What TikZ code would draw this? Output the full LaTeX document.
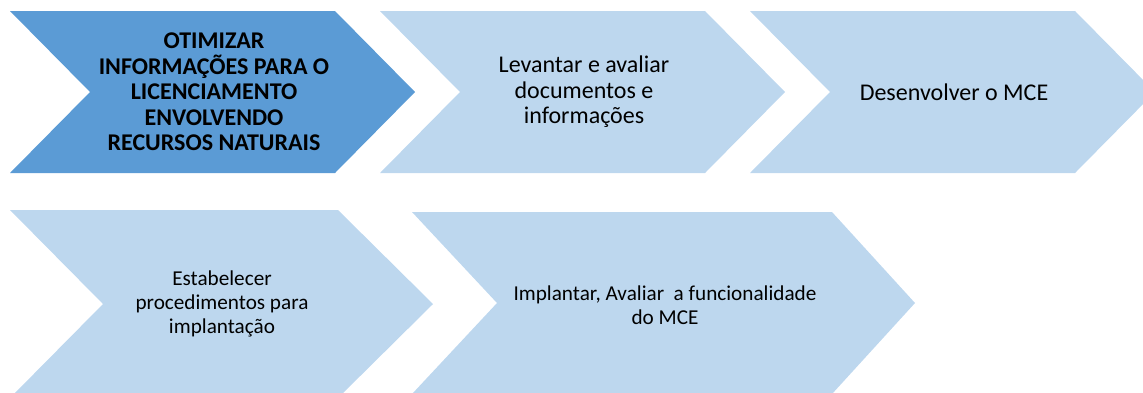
\documentclass[tikz,border=0pt]{standalone}
\usepackage{fontspec}
\setmainfont{Carlito}
\usepackage{xcolor}
\definecolor{passoescuro}{HTML}{5B9BD5}
\definecolor{passoclaro}{HTML}{BDD7EE}

\begin{document}
\begin{tikzpicture}[x=1pt,y=-1pt,
  escuro/.style={fill=passoescuro},
  claro/.style={fill=passoclaro},
  rotulo/.style={align=center,inner sep=0pt,font=\fontsize{24}{25.5}\selectfont},
  rotulomenor/.style={rotulo,font=\fontsize{21.2}{23.8}\selectfont}]
\useasboundingbox (0,0) rectangle (1143,392);
\clip (0,0) rectangle (1143,392);
% primeira linha
\fill [escuro] (10,11) -- (335,11) -- (415,92) -- (335,173) -- (10,173) -- (90,92) -- cycle;
\fill [claro] (380,11) -- (705,11) -- (785,92) -- (705,173) -- (380,173) -- (460,92) -- cycle;
\fill [claro] (750,11) -- (1075,11) -- (1155,92) -- (1075,173) -- (750,173) -- (830,92) -- cycle;
% segunda linha
\fill [claro] (10,210) -- (338,210) -- (433,304) -- (338,398) -- (10,398) -- (103,304) -- cycle;
\fill [claro] (412,212) -- (832,212) -- (915,303) -- (832,394) -- (412,394) -- (497,303) -- cycle;
\node [rotulo] (otimizar) at (214,92) {\bfseries OTIMIZAR\\\bfseries INFORMAÇÕES PARA O\\\bfseries LICENCIAMENTO\\\bfseries ENVOLVENDO\\\bfseries RECURSOS NATURAIS};
\node [rotulo] (levantar) at (584,92) {Levantar e avaliar\\documentos e\\informações};
\node [rotulo] (desenvolver) at (954,92) {Desenvolver o MCE};
\node [rotulomenor] (estabelecer) at (222,304) {Estabelecer\\procedimentos para\\implantação};
\node [rotulomenor] (implantar) at (665,305) {Implantar, Avaliar\ \ a funcionalidade\\do MCE};
\end{tikzpicture}
\end{document}
